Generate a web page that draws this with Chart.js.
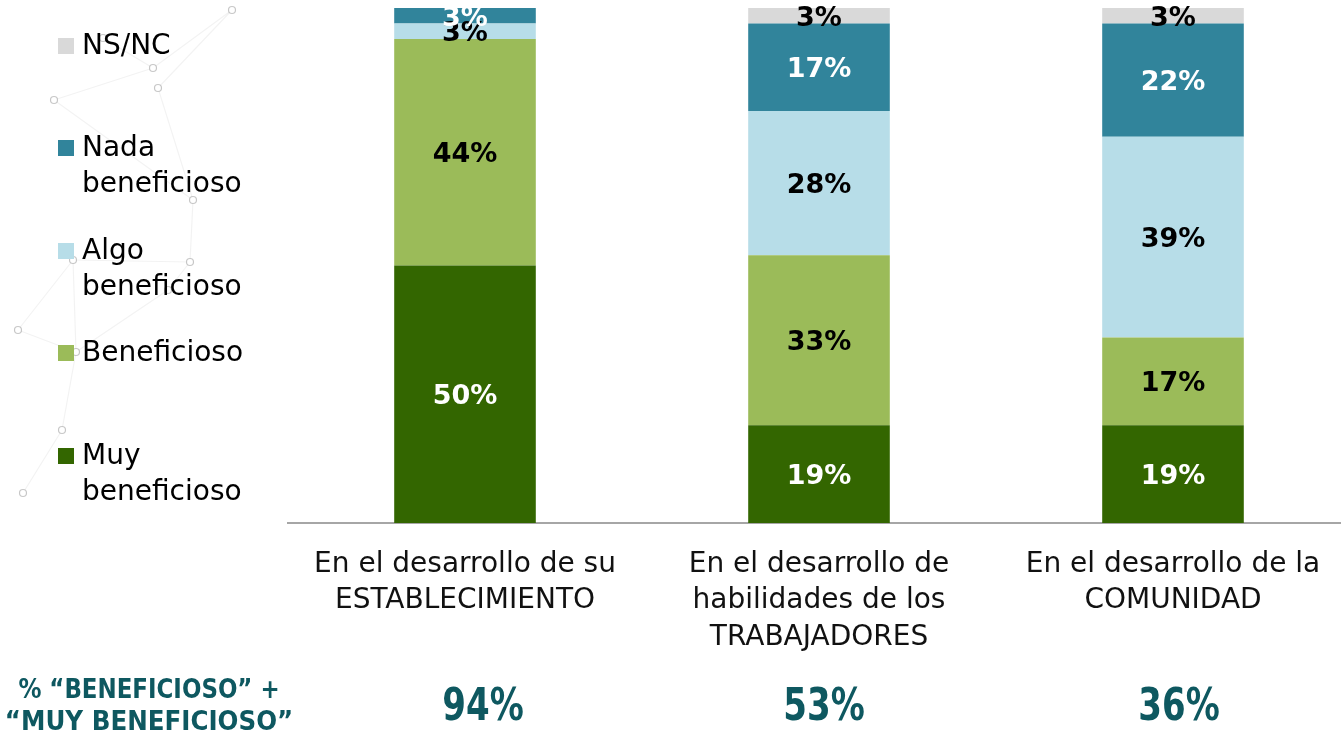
<!DOCTYPE html>
<html>
<head>
<meta charset="utf-8">
<script src="https://cdn.jsdelivr.net/npm/chart.js@4.4.1/dist/chart.umd.min.js"></script>
<style>
  html, body { margin: 0; padding: 0; background: #fff; overflow: hidden; }
  #wrap { position: relative; width: 1341px; height: 739px; overflow: hidden; }
  #cv { position: absolute; left: 0; top: 0; }
  .lg { position: absolute; left: 58px; font: 28px 'DejaVu Sans', sans-serif; color: #000; line-height: 36px; }
  .lg i { position: absolute; left: 0; top: 11px; width: 16px; height: 16px; }
  .lg span { display: block; margin-left: 24px; }
</style>
</head>
<body>
<div id="wrap">
  <canvas id="cv" width="1350" height="739"></canvas>
  <div id="legend"></div>
</div>
<script>
'use strict';

// ── data ─────────────────────────────────────────────────────────────────────

const CATEGORIES = [
  ['En el desarrollo de su', 'ESTABLECIMIENTO'],
  ['En el desarrollo de', 'habilidades de los', 'TRABAJADORES'],
  ['En el desarrollo de la', 'COMUNIDAD'],
];
const MUY_BENEFICIOSO  = [50, 19, 19];
const BENEFICIOSO      = [44, 33, 17];
const ALGO_BENEFICIOSO = [3, 28, 39];
const NADA_BENEFICIOSO = [3, 17, 22];
const NS_NC            = [0, 3, 3];
const SUMMARY          = [94, 53, 36];
const SUMMARY_TITLE    = ['% \u201cBENEFICIOSO\u201d +', '\u201cMUY BENEFICIOSO\u201d'];

const SERIES = [
  { name: ['Muy', 'beneficioso'],  data: MUY_BENEFICIOSO,  color: '#336600', text: '#fff' },
  { name: ['Beneficioso'],         data: BENEFICIOSO,      color: '#9bbb59', text: '#000' },
  { name: ['Algo', 'beneficioso'], data: ALGO_BENEFICIOSO, color: '#b7dde8', text: '#000' },
  { name: ['Nada', 'beneficioso'], data: NADA_BENEFICIOSO, color: '#31849b', text: '#fff' },
  { name: ['NS/NC'],               data: NS_NC,            color: '#d9d9d9', text: '#000' },
];

const TEAL = '#0e5860';
// summary figures sit a little right of the bar centres in the original slide
const SUMMARY_SHIFT = [18, 5, 6];

// ── legend (html, top to bottom = reverse stack order) ──────────────────────

const LEGEND_TOPS = [27, 129, 232, 334, 437];
const legendEl = document.getElementById('legend');
SERIES.slice().reverse().forEach((s, i) => {
  const d = document.createElement('div');
  d.className = 'lg';
  d.style.top = LEGEND_TOPS[i] + 'px';
  d.innerHTML = `<i style="background:${s.color}"></i>` +
    s.name.map(t => `<span>${t}</span>`).join('');
  legendEl.appendChild(d);
});

// ── plugins ──────────────────────────────────────────────────────────────────

const backdrop = {
  id: 'backdrop',
  beforeDraw(c) {
    const ctx = c.ctx;
    const nodes = [[232, 10], [103, 38], [153, 68], [158, 88], [54, 100], [193, 200],
                   [190, 262], [73, 260], [168, 290], [76, 352], [18, 330], [23, 493], [62, 430]];
    const links = [[0, 2], [1, 2], [2, 4], [3, 5], [4, 5], [5, 6], [6, 7], [6, 8], [7, 9],
                   [8, 9], [9, 10], [9, 12], [11, 12], [3, 0], [7, 10]];
    ctx.save();
    ctx.strokeStyle = 'rgba(0,0,0,0.05)';
    ctx.lineWidth = 1.2;
    links.forEach(([a, b]) => {
      ctx.beginPath();
      ctx.moveTo(nodes[a][0], nodes[a][1]);
      ctx.lineTo(nodes[b][0], nodes[b][1]);
      ctx.stroke();
    });
    ctx.strokeStyle = 'rgba(0,0,0,0.22)';
    ctx.fillStyle = '#fff';
    nodes.forEach(([x, y]) => {
      ctx.beginPath();
      ctx.arc(x, y, 3.5, 0, Math.PI * 2);
      ctx.fill();
      ctx.stroke();
    });
    ctx.restore();
  },
};

const barLabels = {
  id: 'barLabels',
  afterDatasetsDraw(c) {
    const ctx = c.ctx;
    ctx.save();
    ctx.font = 'bold 27px "DejaVu Sans", sans-serif';
    ctx.textAlign = 'center';
    ctx.textBaseline = 'middle';
    c.data.datasets.forEach((ds, di) => {
      c.getDatasetMeta(di).data.forEach((bar, i) => {
        const v = ds.data[i];
        if (!v) return;
        ctx.fillStyle = SERIES[di].text;
        ctx.fillText(v + '%', bar.x, (bar.y + bar.base) / 2 + 3);
      });
    });
    ctx.restore();
  },
};

const summaryRow = {
  id: 'summaryRow',
  afterDraw(c) {
    const ctx = c.ctx;
    const x = c.scales.x;
    ctx.save();
    ctx.fillStyle = TEAL;
    ctx.textAlign = 'center';
    ctx.textBaseline = 'middle';
    const narrow = (txt, px, py, sx) => {
      ctx.save();
      ctx.translate(px, py);
      ctx.scale(sx, 1);
      ctx.fillText(txt, 0, 0);
      ctx.restore();
    };
    ctx.font = 'bold 26px "DejaVu Sans Condensed", sans-serif';
    narrow(SUMMARY_TITLE[0], 149, 691, 0.98);
    narrow(SUMMARY_TITLE[1], 149, 723, 1.05);
    ctx.font = 'bold 45px "DejaVu Sans Condensed", sans-serif';
    SUMMARY.forEach((v, i) => {
      narrow(v + '%', x.getPixelForValue(i) + SUMMARY_SHIFT[i], 708, 0.84);
    });
    ctx.restore();
  },
};

// ── chart ────────────────────────────────────────────────────────────────────

new Chart(document.getElementById('cv'), {
  type: 'bar',
  data: {
    labels: CATEGORIES,
    datasets: SERIES.map(s => ({
      label: s.name.join(' '),
      data: s.data,
      backgroundColor: s.color,
      borderWidth: 0,
      barPercentage: 0.8,
      categoryPercentage: 0.5,
    })),
  },
  options: {
    responsive: false,
    animation: false,
    layout: { padding: { left: 288, top: 8, right: 0, bottom: 0 } },
    plugins: { legend: { display: false }, tooltip: { enabled: false } },
    scales: {
      x: {
        stacked: true,
        grid: { display: false },
        border: { display: true, color: '#a6a6a6', width: 2 },
        ticks: {
          color: '#111',
          padding: 16,
          maxRotation: 0,
          autoSkip: false,
          font: { family: 'DejaVu Sans', size: 28, lineHeight: 1.29 },
        },
        afterFit(scale) { scale.height = 216; },
      },
      y: {
        stacked: true,
        display: false,
        min: 0,
        max: 100,
      },
    },
  },
  plugins: [backdrop, barLabels, summaryRow],
});
</script>
</body>
</html>
